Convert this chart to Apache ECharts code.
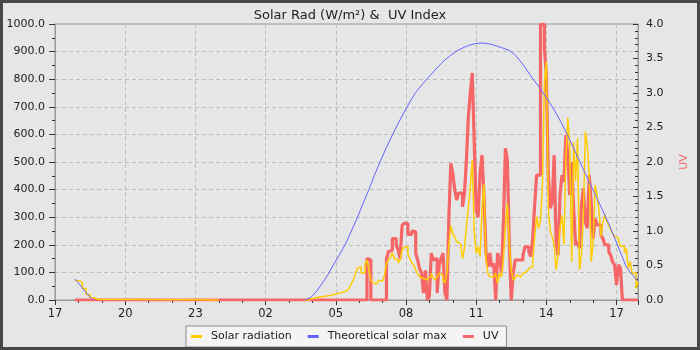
<!DOCTYPE html>
<html>
<head>
<meta charset="utf-8">
<script src="https://cdn.jsdelivr.net/npm/echarts@6/dist/echarts.min.js"></script>
<style>
  html, body { margin: 0; padding: 0; background: #e6e6e6; }
  #chart { width: 700px; height: 350px; }
</style>
</head>
<body>
<div id="chart"></div>
<script>
// evening of the first day (the '00:00' entry only breaks the lines over the night)
const eveningTimes = ['17:51', '18:00', '18:10', '18:20', '18:30', '18:40', '18:50', '00:00'];
const eveningSolar = [70, 64, 42, 20, 8, 3, 0, null];
const eveningTheory = [76, 62, 44, 26, 10, 0, null, null];
const eveningUV = [0, 0, 0, 0, 0, 0, 0, 0];

// 5 minute readings, 03:40 .. 17:55
const dayTimes = [
  '03:40', '03:45', '03:50', '03:55',
  '04:00', '04:05', '04:10', '04:15', '04:20', '04:25', '04:30', '04:35', '04:40', '04:45', '04:50', '04:55',
  '05:00', '05:05', '05:10', '05:15', '05:20', '05:25', '05:30', '05:35', '05:40', '05:45', '05:50', '05:55',
  '06:00', '06:05', '06:10', '06:15', '06:20', '06:25', '06:30', '06:35', '06:40', '06:45', '06:50', '06:55',
  '07:00', '07:05', '07:10', '07:15', '07:20', '07:25', '07:30', '07:35', '07:40', '07:45', '07:50', '07:55',
  '08:00', '08:05', '08:10', '08:15', '08:20', '08:25', '08:30', '08:35', '08:40', '08:45', '08:50', '08:55',
  '09:00', '09:05', '09:10', '09:15', '09:20', '09:25', '09:30', '09:35', '09:40', '09:45', '09:50', '09:55',
  '10:00', '10:05', '10:10', '10:15', '10:20', '10:25', '10:30', '10:35', '10:40', '10:45', '10:50', '10:55',
  '11:00', '11:05', '11:10', '11:15', '11:20', '11:25', '11:30', '11:35', '11:40', '11:45', '11:50', '11:55',
  '12:00', '12:05', '12:10', '12:15', '12:20', '12:25', '12:30', '12:35', '12:40', '12:45', '12:50', '12:55',
  '13:00', '13:05', '13:10', '13:15', '13:20', '13:25', '13:30', '13:35', '13:40', '13:45', '13:50', '13:55',
  '14:00', '14:05', '14:10', '14:15', '14:20', '14:25', '14:30', '14:35', '14:40', '14:45', '14:50', '14:55',
  '15:00', '15:05', '15:10', '15:15', '15:20', '15:25', '15:30', '15:35', '15:40', '15:45', '15:50', '15:55',
  '16:00', '16:05', '16:10', '16:15', '16:20', '16:25', '16:30', '16:35', '16:40', '16:45', '16:50', '16:55',
  '17:00', '17:05', '17:10', '17:15', '17:20', '17:25', '17:30', '17:35', '17:40', '17:45', '17:50', '17:55'
];

const daySolar = [
  0, 0, 3, 5,
  8, 9, 10, 11, 12, 13, 14, 15, 16, 18, 20, 22,
  24, 25, 26, 29, 32, 35, 38, 45, 60, 72, 95, 115,
  121, 97, 100, 130, 145, 110, 72, 62, 58, 65, 72, 68,
  70, 90, 134, 145, 155, 170, 150, 145, 135, 145, 181, 190,
  193, 165, 150, 134, 125, 109, 95, 84, 78, 72, 72, 80,
  84, 97, 80, 72, 85, 97, 90, 72, 61, 100, 200, 270,
  240, 230, 211, 205, 199, 150, 190, 266, 338, 410, 507, 250,
  169, 193, 157, 330, 420, 150, 97, 84, 84, 90, 97, 60,
  97, 84, 150, 266, 350, 200, 110, 72, 80, 91, 84, 90,
  97, 103, 109, 115, 121, 140, 230, 302, 260, 290, 420, 790,
  863, 330, 248, 230, 200, 110, 163, 260, 308, 200, 513, 660,
  560, 139, 573, 430, 586, 110, 163, 308, 610, 560, 450, 139,
  211, 417, 380, 320, 230, 284, 308, 284, 270, 255, 240, 230,
  223, 210, 195, 195, 170, 187, 115, 139, 95, 100, 42, 66
];

const dayUV = [
  0, 0, 0, 0,
  0, 0, 0, 0, 0, 0, 0, 0, 0, 0, 0, 0,
  0, 0, 0, 0, 0, 0, 0, 0, 0, 0, 0, 0,
  0, 0, 0, 0, 0.60, 0.58, 0, 0, 0, 0, 0, 0,
  0, 0, 0.60, 0.70, 0.72, 0.89, 0.89, 0.80, 0.72, 0.60, 1.08, 1.11,
  1.11, 0.95, 0.95, 1.00, 0.99, 0.68, 0.58, 0.45, 0.40, 0.10, 0.43, 0,
  0.05, 0.68, 0.58, 0.60, 0.10, 0.50, 0.60, 0.68, 0.10, 0, 1.20, 1.98,
  1.84, 1.60, 1.45, 1.55, 1.55, 1.35, 1.55, 2.03, 2.66, 3.00, 3.29, 2.30,
  1.30, 1.20, 1.84, 2.10, 1.50, 0.70, 0.48, 0.68, 0.48, 0.53, 0, 0.68,
  0.58, 0.40, 1.16, 2.20, 2.03, 0.80, 0, 0.39, 0.58, 0.58, 0.58, 0.58,
  0.65, 0.77, 0.77, 0.70, 0.63, 0.89, 1.38, 1.81, 1.81, 4.00, 3.99, 3.65,
  3.26, 1.81, 1.33, 1.42, 2.10, 0.85, 0.65, 1.52, 1.81, 1.71, 2.39, 2.10,
  1.52, 2.00, 1.33, 0.80, 0.84, 0.75, 1.38, 1.62, 1.13, 1.04, 1.81, 1.42,
  0.89, 1.18, 1.09, 1.09, 0.94, 0.89, 0.80, 0.80, 0.70, 0.65, 0.55, 0.51,
  0.22, 0.51, 0.46, 0, 0, 0, 0, 0, 0, 0, 0, 0
];

// theoretical clear-sky maximum, 15 minute steps
const theoryTimes = [
  '03:40', '03:55', '04:10', '04:25', '04:40', '04:55', '05:10', '05:25', '05:40', '05:55',
  '06:10', '06:25', '06:40', '06:55', '07:10', '07:25', '07:40', '07:55', '08:10', '08:25',
  '08:40', '08:55', '09:10', '09:25', '09:40', '09:55', '10:10', '10:25', '10:40', '10:55',
  '11:10', '11:25', '11:40', '11:55', '12:10', '12:25', '12:40', '12:55', '13:10', '13:25',
  '13:40', '13:55', '14:10', '14:25', '14:40', '14:55', '15:10', '15:25', '15:40', '15:55',
  '16:10', '16:25', '16:40', '16:55', '17:10', '17:25', '17:40', '17:55'
];
const theoryValues = [
  0, 8, 30, 60, 92, 130, 165, 203, 250, 297,
  350, 400, 455, 505, 553, 597, 640, 680, 718, 752,
  778, 803, 826, 849, 870, 887, 902, 913, 922, 928,
  931, 930, 926, 919, 912, 904, 888, 862, 833, 802,
  774, 743, 712, 677, 638, 595, 550, 503, 458, 413,
  368, 323, 276, 225, 172, 120, 92, 68
];

const xTicks = 180;   // one label every 3 hours
const xEnd = 1495;    // right edge of the plot, minutes after 17:00

// minutes after 17:00 of the first day
function toMinutes(times) {
  let prev = -Infinity;
  return times.map(t => {
    const [h, m] = t.split(':').map(Number);
    let v = h * 60 + m - 17 * 60;
    if (v < 0) v += 1440;
    while (v < prev) v += 1440;
    prev = v;
    return v;
  });
}

function pairs(times, values) {
  const xs = toMinutes(times);
  return xs.map((x, i) => [x, values[i]]);
}

const allTimes = eveningTimes.concat(dayTimes);
const solarData = pairs(allTimes, eveningSolar.concat(daySolar));
const uvData = pairs(allTimes, eveningUV.concat(dayUV));
const theoryData = pairs(eveningTimes.concat(theoryTimes), eveningTheory.concat(theoryValues));

const font = 'DejaVu Sans';
const dash = { color: '#bdbdbd', type: [4, 3], width: 1 };

const chart = echarts.init(document.getElementById('chart'));
chart.setOption({
  animation: false,
  backgroundColor: '#e6e6e6',
  textStyle: { fontFamily: font },
  title: {
    text: 'Solar Rad (W/m²) &  UV Index',
    left: 'center',
    top: 4,
    textStyle: { fontFamily: font, fontSize: 13, fontWeight: 'normal', color: '#222' }
  },
  graphic: [{
    type: 'rect',
    silent: true,
    z: 100,
    shape: { x: 1.5, y: 1.5, width: 697, height: 347 },
    style: { fill: 'none', stroke: '#474747', lineWidth: 3 }
  }],
  legend: {
    data: ['Solar radiation', 'Theoretical solar max', 'UV'],
    left: 186,
    top: 326,
    padding: [5, 8, 5, 5],
    itemGap: 16,
    itemWidth: 11,
    itemHeight: 3,
    icon: 'rect',
    backgroundColor: '#f4f4f4',
    borderColor: '#8a8a8a',
    borderWidth: 1,
    borderRadius: 0,
    textStyle: { fontFamily: font, fontSize: 11, color: '#222', padding: [0, 0, 0, 4] }
  },
  grid: {
    left: 55, right: 62, top: 24, bottom: 50,
    outerBoundsMode: 'none',
    containLabel: false,
    show: true, borderColor: '#999', borderWidth: 1, backgroundColor: 'transparent'
  },
  xAxis: {
    type: 'value',
    min: 0,
    max: xEnd,
    interval: xTicks,
    axisLine: { lineStyle: { color: '#999' } },
    axisTick: { length: 5, lineStyle: { color: '#333' } },
    minorTick: { show: true, splitNumber: 3, length: 3, lineStyle: { color: '#333' } },
    splitLine: { lineStyle: dash },
    axisLabel: {
      fontFamily: font, fontSize: 11.5, color: '#222', margin: 8,
      showMaxLabel: false,
      formatter: v => String(Math.round(17 + v / 60) % 24).padStart(2, '0')
    }
  },
  yAxis: [{
    type: 'value',
    min: 0, max: 1000, interval: 100,
    name: 'Solar Rad (W/m²)',
    nameLocation: 'middle',
    nameGap: 46,
    nameTextStyle: { fontFamily: font, fontSize: 11, color: '#2f7ab0' },
    axisLine: { show: true, lineStyle: { color: '#999' } },
    axisTick: { show: true, length: 6, lineStyle: { color: '#333' } },
    minorTick: { show: true, splitNumber: 2, length: 3, lineStyle: { color: '#333' } },
    splitLine: { lineStyle: dash },
    axisLabel: { fontFamily: font, fontSize: 11, color: '#222', margin: 10, formatter: v => v.toFixed(1) }
  }, {
    type: 'value',
    min: 0, max: 4, interval: 0.5,
    name: 'UV',
    nameLocation: 'middle',
    nameGap: 41,
    nameTextStyle: { fontFamily: font, fontSize: 11, color: '#f06464' },
    position: 'right',
    axisLine: { show: true, lineStyle: { color: '#999' } },
    axisTick: { show: true, inside: true, length: 5, lineStyle: { color: '#333' } },
    minorTick: { show: true, splitNumber: 5, length: 3, lineStyle: { color: '#333' } },
    splitLine: { show: false },
    axisLabel: { fontFamily: font, fontSize: 11, color: '#222', margin: 8, formatter: v => v.toFixed(1) }
  }],
  series: [{
    name: 'UV',
    type: 'line',
    yAxisIndex: 1,
    step: 'end',
    showSymbol: false,
    color: '#f66666',
    lineStyle: { width: 3.2, color: '#f66666' },
    data: uvData,
    z: 2
  }, {
    name: 'Solar radiation',
    type: 'line',
    step: 'end',
    showSymbol: false,
    color: '#ffcc00',
    lineStyle: { width: 1.5, color: '#ffcc00' },
    data: solarData,
    z: 3
  }, {
    name: 'Theoretical solar max',
    type: 'line',
    showSymbol: false,
    color: '#6464ff',
    lineStyle: { width: 1, color: '#6464ff' },
    data: theoryData,
    z: 4
  }]
});
</script>
</body>
</html>
